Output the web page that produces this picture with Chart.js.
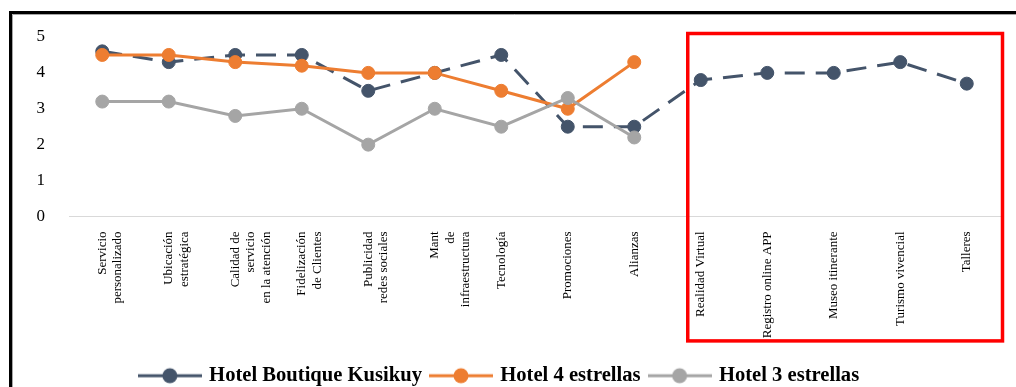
<!DOCTYPE html>
<html>
<head>
<meta charset="utf-8">
<script src="https://cdn.jsdelivr.net/npm/chart.js@4/dist/chart.umd.min.js"></script>
<style>
  html, body { margin: 0; padding: 0; background: #fff; overflow: hidden; }
  #wrap { position: relative; width: 1016px; height: 396px; }
</style>
</head>
<body>
<div id="wrap"><canvas id="chart"></canvas></div>
<script>
"use strict";

// categorías (cada elemento = líneas de la etiqueta)
const categories = [
  ["Servicio", "personalizado"],
  ["Ubicación", "estratégica"],
  ["Calidad de", "servicio", "en la atención"],
  ["Fidelización", "de Clientes"],
  ["Publicidad", "redes sociales"],
  ["Mant", "de", "infraestructura"],
  "Tecnología",
  "Promociones",
  "Alianzas",
  "Realidad Virtual",
  "Registro online APP",
  "Museo itinerante",
  "Turismo vivencial",
  "Talleres",
];

const seriesNames = ["Hotel Boutique Kusikuy", "Hotel 4 estrellas", "Hotel 3 estrellas"];
const kusikuy = [4.6, 4.3, 4.5, 4.5, 3.5, 4.0, 4.5, 2.5, 2.5, 3.8, 4.0, 4.0, 4.3, 3.7];
const hotel4 = [4.5, 4.5, 4.3, 4.2, 4.0, 4.0, 3.5, 3.0, 4.3, null, null, null, null, null];
const hotel3 = [3.2, 3.2, 2.8, 3.0, 2.0, 3.0, 2.5, 3.3, 2.2, null, null, null, null, null];
const yTicks = [0, 1, 2, 3, 4, 5];

// primera categoría del recuadro de propuestas
const highlightFrom = 9;

const NAVY = "#44546A";
const ORANGE = "#ED7D31";
const GRAY = "#A5A5A5";
const SERIF = "'Liberation Serif', 'DejaVu Serif', serif";

// icono de leyenda: línea con punto al centro
function legendIcon(color) {
  const c = document.createElement("canvas");
  c.width = 64;
  c.height = 20;
  const ctx = c.getContext("2d");
  ctx.strokeStyle = color;
  ctx.lineWidth = 3;
  ctx.beginPath();
  ctx.moveTo(0, 10);
  ctx.lineTo(64, 10);
  ctx.stroke();
  ctx.fillStyle = color;
  ctx.beginPath();
  ctx.arc(32, 10, 7.5, 0, Math.PI * 2);
  ctx.fill();
  return c;
}

function lineSet(label, data, color, order, dash) {
  return {
    label,
    data,
    order,
    borderColor: color,
    backgroundColor: color,
    borderWidth: 3,
    borderDash: dash || [],
    pointRadius: 6.5,
    pointBorderWidth: 1,
    pointBackgroundColor: color,
    pointBorderColor: color,
    pointStyle: "circle",
    tension: 0,
    spanGaps: false,
    fill: false,
  };
}

// marco negro de la hoja y recuadro rojo de las propuestas
const framePlugin = {
  id: "frame",
  afterDraw(chart) {
    const ctx = chart.ctx;
    const xs = chart.scales.x;
    const ys = chart.scales.y;
    ctx.save();
    ctx.strokeStyle = "#000";
    ctx.lineWidth = 3;
    ctx.beginPath();
    ctx.moveTo(10.5, 400);
    ctx.lineTo(10.5, 12.5);
    ctx.lineTo(1016, 12.5);
    ctx.stroke();
    ctx.strokeStyle = "#A6A6A6";
    ctx.lineWidth = 1;
    ctx.beginPath();
    ctx.moveTo(12.5, 400);
    ctx.lineTo(12.5, 14.5);
    ctx.lineTo(1016, 14.5);
    ctx.stroke();

    const left = xs.getPixelForValue(highlightFrom) - 13;
    const right = xs.right + 2.5;
    const top = ys.getPixelForValue(5) - 3.5;
    const bottom = xs.bottom - 14.5;
    ctx.strokeStyle = "#FF0000";
    ctx.lineWidth = 3.5;
    ctx.strokeRect(left, top, right - left, bottom - top);
    ctx.restore();
  },
};

new Chart(document.getElementById("chart"), {
  type: "line",
  data: {
    labels: categories,
    datasets: [
      lineSet(seriesNames[0], kusikuy, NAVY, 3, [20, 11]),
      lineSet(seriesNames[1], hotel4, ORANGE, 2),
      lineSet(seriesNames[2], hotel3, GRAY, 1),
    ],
  },
  options: {
    responsive: true,
    maintainAspectRatio: false,
    animation: false,
    devicePixelRatio: 1,
    layout: {
      autoPadding: false,
      padding: { top: 37, right: 16, bottom: 0, left: 0 },
    },
    scales: {
      x: {
        offset: true,
        grid: { display: false, drawTicks: false },
        border: { display: true, color: "#D9D9D9", width: 1 },
        ticks: {
          autoSkip: false,
          minRotation: 90,
          maxRotation: 90,
          padding: 15,
          color: "#000",
          font: { family: SERIF, size: 13, lineHeight: 1.2 },
        },
        afterFit: (s) => {
          s.height = 139;
        },
      },
      y: {
        min: 0,
        max: 5,
        afterBuildTicks: (s) => {
          s.ticks = yTicks.map((v) => ({ value: v }));
        },
        grid: { display: false, drawTicks: false },
        border: { display: false },
        ticks: {
          padding: 24,
          color: "#000",
          font: { family: SERIF, size: 17 },
        },
        afterFit: (s) => {
          s.width = 69;
        },
      },
    },
    plugins: {
      tooltip: { enabled: false },
      legend: {
        position: "bottom",
        labels: {
          usePointStyle: true,
          pointStyleWidth: 58,
          padding: 10,
          color: "#000",
          font: { family: SERIF, size: 20.6, weight: "bold" },
          sort: (a, b) => a.datasetIndex - b.datasetIndex,
          generateLabels: (chart) =>
            chart.data.datasets.map((ds, i) => ({
              text: ds.label,
              datasetIndex: i,
              pointStyle: legendIcon(ds.borderColor),
              fillStyle: ds.borderColor,
              strokeStyle: ds.borderColor,
              lineWidth: 0,
              hidden: false,
              fontColor: "#000",
            })),
        },
      },
    },
  },
  plugins: [framePlugin],
});
</script>
</body>
</html>
